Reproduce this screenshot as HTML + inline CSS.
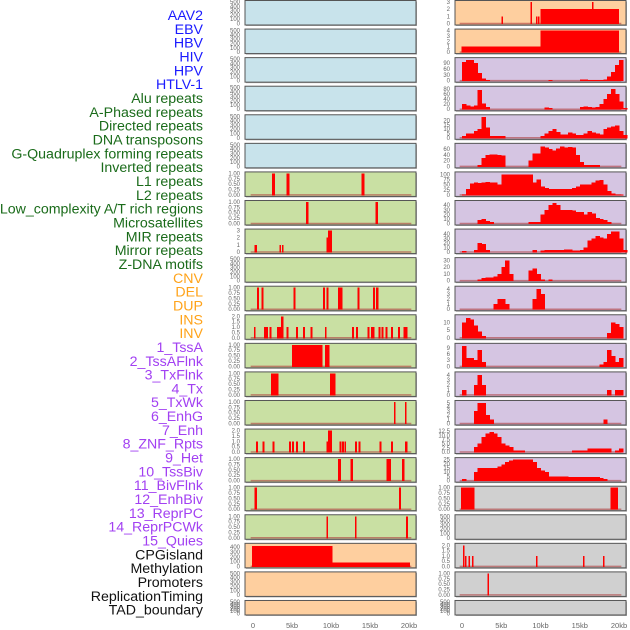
<!DOCTYPE html>
<html><head><meta charset="utf-8"><style>
body{margin:0;background:#fff;}
svg{display:block;font-family:"Liberation Sans",sans-serif;}
</style></head><body>
<svg id="chart" width="630" height="630" viewBox="0 0 630 630"></svg>
<script>
// ---------- data ----------
const rowLabels = ["AAV2","EBV","HBV","HIV","HPV","HTLV-1","Alu repeats","A-Phased repeats","Directed repeats","DNA transposons","G-Quadruplex forming repeats","Inverted repeats","L1 repeats","L2 repeats","Low_complexity A/T rich regions","Microsatellites","MIR repeats","Mirror repeats","Z-DNA motifs","CNV","DEL","DUP","INS","INV","1_TssA","2_TssAFlnk","3_TxFlnk","4_Tx","5_TxWk","6_EnhG","7_Enh","8_ZNF_Rpts","9_Het","10_TssBiv","11_BivFlnk","12_EnhBiv","13_ReprPC","14_ReprPCWk","15_Quies","CPGisland","Methylation","Promoters","ReplicationTiming","TAD_boundary"];
const labelGroups = [6,13,5,15,5];
const xTickValues = [0,5,10,15,20];
const xTickLabels = ["0","5kb","10kb","15kb","20kb"];

// left column: [startKb, endKb, height]
const leftYMax = [500,500,500,500,500,500,1,1,3,500,1,2,1,1,1,2,1,1,1,450,500,500];
const leftSpikes = [
 [],[],[],[],[],[],
 [[2.45,2.85,1],[4.3,4.7,1],[13.9,14.3,1]],
 [[6.8,7.1,1],[15.7,16.0,1]],
 [[0.2,0.5,1],[3.4,3.6,1],[3.7,3.9,1],[9.4,9.6,2],[9.6,10.1,3]],
 [],
 [[0.5,0.75,1],[1.1,1.35,1],[5.2,5.45,1],[9.0,9.25,1],[9.4,9.65,1],[10.9,11.5,1],[13.4,13.65,1],[15.4,15.65,1],[15.8,16.1,1]],
 [[0.1,0.35,1],[1.4,1.9,1],[2.1,2.35,1],[3.1,3.4,1],[3.4,3.75,1],[3.6,3.9,2],[4.3,4.55,1],[5.5,5.75,1],[6.4,6.65,1],[7.4,7.65,1],[9.2,9.45,1],[12.7,12.95,1],[13.2,13.45,1],[14.7,14.95,1],[15.1,15.6,1],[16.1,16.35,1],[16.5,16.75,1],[17.0,17.25,1],[17.7,17.95,1],[18.6,18.85,1],[19.3,19.8,1]],
 [[5.0,8.9,1],[9.2,9.8,1]],
 [[2.3,3.3,1],[9.9,10.6,1]],
 [[18.1,18.3,1],[19.5,19.7,1]],
 [[0.4,0.65,1],[1.2,1.45,1],[2.5,2.75,1],[4.6,4.85,1],[5.0,5.25,1],[5.5,5.75,1],[6.4,6.65,1],[9.4,9.7,1],[9.6,10.1,2],[11.1,11.35,1],[11.4,11.65,1],[11.7,11.95,1],[13.1,13.35,1],[13.5,13.75,1],[16.2,16.45,1],[17.7,17.95,1],[19.5,19.8,1]],
 [[10.9,11.25,1],[12.5,12.8,1],[17.1,17.7,1],[19.1,19.4,1]],
 [[0.2,0.5,1],[18.7,18.95,1]],
 [[9.4,9.6,1],[13.1,13.3,1],[19.6,19.9,1]],
 [[-0.1,10.2,430],[10.2,20.1,80]],
 [],[]
];
const leftColors = ["#c8e3eb","#c8e3eb","#c8e3eb","#c8e3eb","#c8e3eb","#c8e3eb","#c9e0a3","#c9e0a3","#c9e0a3","#c9e0a3","#c9e0a3","#c9e0a3","#c9e0a3","#c9e0a3","#c9e0a3","#c9e0a3","#c9e0a3","#c9e0a3","#c9e0a3","#fecf9f","#fecf9f","#fecf9f"];

// right column: [kb, value] bins (0.5kb wide) or [startKb, endKb, value] ranges
const rightYMax = [3,4,110,85,25,75,105,47,47,32,4.3,14,10.5,4.3,5.2,12.8,25.5,1,500,2.05,1,500];
const aav2Right = [[5.05,5.25,1],[8.7,8.85,3],[9.4,9.55,1],[9.65,9.8,1],[10.0,20.0,2],[16.55,16.7,3]];
const ebvRight = [[-0.05,10.0,1],[10.0,20.0,4]];
const hbvRight = [[0,95],[0.5,105],[1,105],[1.5,90],[2,40],[2.5,10],[3,3],[11,3],[15,5],[15.5,5],[16,3],[16.5,2],[17,3],[17.5,3],[18,6],[18.5,20],[19,45],[19.5,80],[20,105]];
const hivRight = [[0,20],[0.5,15],[1,10],[1.5,15],[2,75],[2.5,22],[3,8],[10.5,6],[11,5],[15,8],[15.5,10],[16,8],[16.5,6],[17,8],[17.5,20],[18,40],[18.5,60],[19,80],[19.5,60],[20,30],[20.5,5]];
const hpvRight = [[0,2],[0.5,5],[1,5],[1.5,8],[2,10],[2.5,24],[3,12],[3.5,2],[4,2],[4.5,2],[5,2],[10,2],[10.5,5],[11,8],[11.5,10],[12,7],[12.5,4],[13,4],[13.5,6],[14,5],[14.5,3],[15,3],[15.5,5],[16,8],[16.5,6],[17,5],[17.5,4],[18,10],[18.5,12],[19,13],[19.5,14],[20,8],[20.5,3]];
const htlvRight = [[2,5],[2.5,30],[3,40],[3.5,42],[4,42],[4.5,40],[5,38],[8.5,20],[9,45],[9.5,45],[10,70],[10.5,65],[11,60],[11.5,55],[12,62],[12.5,70],[13,65],[13.5,68],[14,65],[14.5,40],[15,15],[15.5,5],[16,5],[16.5,5],[17,5]];
const aluRight = [[0,3],[0.5,30],[1,55],[1.5,60],[2,58],[2.5,60],[3,62],[3.5,60],[4,60],[4.5,50],[5,100],[5.5,100],[6,100],[6.5,100],[7,100],[7.5,100],[8,100],[8.5,100],[9,60],[9.5,75],[10,40],[10.5,35],[11,30],[11.5,30],[12,28],[12.5,30],[13,28],[13.5,30],[14,35],[14.5,40],[15,50],[15.5,52],[16,52],[16.5,60],[17,70],[17.5,72],[18,50],[18.5,20],[19,8],[19.5,3],[20,3]];
const aphasedRight = [[2,8],[2.5,10],[3,5],[3.5,3],[8.5,3],[9,3],[9.5,3],[10,20],[10.5,30],[11,40],[11.5,45],[12,40],[12.5,30],[13,30],[13.5,30],[14,28],[14.5,25],[15,25],[15.5,20],[16,25],[16.5,22],[17,12],[17.5,10],[18,8],[18.5,3]];
const directedRight = [[0,2],[1.5,5],[2,20],[2.5,18],[3,5],[9,4],[10,3],[10.5,5],[11,5],[11.5,5],[12,5],[12.5,4],[13,6],[13.5,6],[14,3],[14.5,3],[15,4],[15.5,10],[16,25],[16.5,30],[17,35],[17.5,32],[18,30],[18.5,40],[19,45],[19.5,45],[20,30],[20.5,5]];
const dnaTransRight = [[2,2],[2.5,4],[3,5],[3.5,5],[4,6],[4.5,10],[5,20],[5.5,30],[6,10],[8.5,15],[9,18],[9.5,10],[10,2],[11,2]];
const gquadRight = [[4,1],[4.5,2],[5,2],[5.5,1],[9,2],[9.5,4],[10,3]];
const invertedRight = [[0,10],[0.5,13],[1,12],[1.5,8],[2,4],[2.5,1],[18.5,3],[19,10],[19.5,9],[20,7]];
const l1Right = [[0,10],[0.5,4],[1,4],[1.5,3],[2,8],[2.5,2],[17.5,1],[18,2],[18.5,8],[19,5],[19.5,2],[20,4]];
const l2Right = [[0,1],[1.5,2],[2,4],[2.5,2],[18.5,1],[19.5,1],[20,1]];
const lowCompRight = [[1.5,3],[2,5],[2.5,5],[3,2],[3.5,1],[18,1]];
const microRight = [[1.5,3],[2,5],[2.5,9],[3,11],[3.5,12],[4,11],[4.5,9],[5,5],[5.5,4],[6,3],[6.5,1],[7,1],[7.5,1],[14,1],[14.5,1],[15,1],[15.5,1],[16,2],[16.5,2],[17,2],[17.5,2],[18,2],[18.5,2],[19.5,1],[20,2]];
const mirRight = [[0,2],[1.5,10],[2,15],[2.5,15],[3,15],[3.5,15],[4,15],[4.5,17],[5,19],[5.5,22],[6,24],[6.5,25],[7,25],[7.5,25],[8,25],[8.5,25],[9,22],[9.5,15],[10,12],[10.5,10],[11,5],[11.5,5],[12,5],[12.5,5],[13,5],[13.5,4],[14,4],[14.5,4],[15,4],[15.5,4],[16,4],[16.5,4],[17,4],[17.5,3],[18,2]];
const mirrorRight = [[-0.1,1.6,1],[18.9,19.9,1]];
const zdnaRight = [];
const cnvRight = [[0.1,0.3,2],[0.4,0.55,1],[0.85,1.0,1],[1.25,1.4,1],[9.45,9.6,1],[15.4,15.6,1],[17.95,18.1,1]];
const delRight = [[3.25,3.4,1]];
const dupRight = [];
const rightSeries = [aav2Right,ebvRight,hbvRight,hivRight,hpvRight,htlvRight,aluRight,aphasedRight,directedRight,dnaTransRight,gquadRight,invertedRight,l1Right,l2Right,lowCompRight,microRight,mirRight,mirrorRight,zdnaRight,cnvRight,delRight,dupRight];
const rightColors = ["#fecf9f","#fecf9f","#d5c5e2","#d5c5e2","#d5c5e2","#d5c5e2","#d5c5e2","#d5c5e2","#d5c5e2","#d5c5e2","#d5c5e2","#d5c5e2","#d5c5e2","#d5c5e2","#d5c5e2","#d5c5e2","#d5c5e2","#d0d0d0","#d0d0d0","#d0d0d0","#d0d0d0","#d0d0d0"];

const tickSets = {
 500:[0,100,200,300,400,500], 450:[0,100,200,300,400], 1:[0,0.25,0.5,0.75,1], 2:[0,0.5,1,1.5,2], 2.05:[0,0.5,1,1.5,2],
 3:[0,1,2,3], 4:[0,1,2,3,4], 4.3:[0,1,2,3,4], 5.2:[0,1,2,3,4,5], 110:[0,30,60,90], 85:[0,20,40,60,80], 25:[0,5,10,15,20],
 75:[0,20,40,60], 105:[0,25,50,75,100], 47:[0,10,20,30,40], 32:[0,10,20,30], 14:[0,5,10], 10.5:[0,3,6,9],
 12.8:[0,2.5,5,7.5,10,12.5], 25.5:[0,5,10,15,20,25]
};
function fmt(v,ymax){ if(ymax===1) return v.toFixed(2); if(ymax===2||ymax===2.05||ymax===12.8) return v.toFixed(1); return String(v); }

// ---------- drawing ----------
const NS="http://www.w3.org/2000/svg";
const svg=document.getElementById('chart');
function mk(tag,attrs,parent){const e=document.createElementNS(NS,tag);for(const k in attrs)e.setAttribute(k,attrs[k]);(parent||svg).appendChild(e);return e;}

const groupColors=["#1a1aff","#1a6b1a","#ffa31a","#a240f2","#111111"];
let gi=0,cnt=0;
rowLabels.forEach((lab,i)=>{
  while(cnt>=labelGroups[gi]){cnt=0;gi++;}
  const t=mk('text',{x:203,y:20+i*13.83,'text-anchor':'end','font-size':'14.2',fill:groupColors[gi]});
  t.textContent=lab;
  
  
  cnt++;
});

const cols=[{x0:245,x1:416,z:253,t:409,tickX:240},{x0:455,x1:626,z:462,t:619,tickX:450}];
function xs(c,kb){return c.z+(c.t-c.z)*kb/20;}
function rowTop(i){return 0.5+i*28.57;}
function rowH(i){return i===21?14.5:24.5;}

for(let i=0;i<22;i++){
  [0,1].forEach(ci=>{
    const c=cols[ci];
    const top=rowTop(i),h=rowH(i);
    const ymax=ci===0?leftYMax[i]:rightYMax[i];
    const data=ci===0?leftSpikes[i]:rightSeries[i];
    const g=mk('g',{});
    
    
    mk('rect',{x:c.x0+1,y:top+1,width:c.x1-c.x0,height:h,fill:'#aaa'},g);
    mk('rect',{x:c.x0,y:top,width:c.x1-c.x0,height:h,fill:ci===0?leftColors[i]:rightColors[i],stroke:'#555','stroke-width':1},g);
    const y0=top+h-1.5, y1=top+1.5;
    const ys=v=>y0-(y0-y1)*Math.min(v,ymax)/ymax;
    if(data.length) mk('line',{x1:xs(c,-0.3),x2:xs(c,20.3),y1:y0,y2:y0,stroke:'#b04040','stroke-width':1.5,opacity:0.6},g);
    data.forEach(p=>{
      let s,e,v;
      if(p.length===3){s=p[0];e=p[1];v=p[2];} else {s=p[0];e=p[0]+0.5;v=p[1];}
      const xa=xs(c,s), xb=xs(c,e);
      const r=mk('rect',{x:xa,y:ys(v),width:Math.max(1.5,xb-xa)+(p.length===2?0.4:0),height:y0-ys(v)+0.5,fill:'#ff0000','shape-rendering':'crispEdges'},g);
      
      
    });
    const ticks=tickSets[ymax]||[0,ymax];
    ticks.forEach(v=>{
      const t=mk('text',{x:c.tickX,y:ys(v)+2,'text-anchor':'end','font-size':'6',fill:'#666'},g);
      t.textContent=fmt(v,ymax);
    });
  });
}
[0,1].forEach(ci=>{
  const c=cols[ci];
  xTickValues.forEach((v,k)=>{
    const t=mk('text',{x:xs(c,v),y:628,'text-anchor':'middle','font-size':'7.5',fill:'#666'});
    t.textContent=xTickLabels[k];
    
    
  });
});
</script>
</body></html>
